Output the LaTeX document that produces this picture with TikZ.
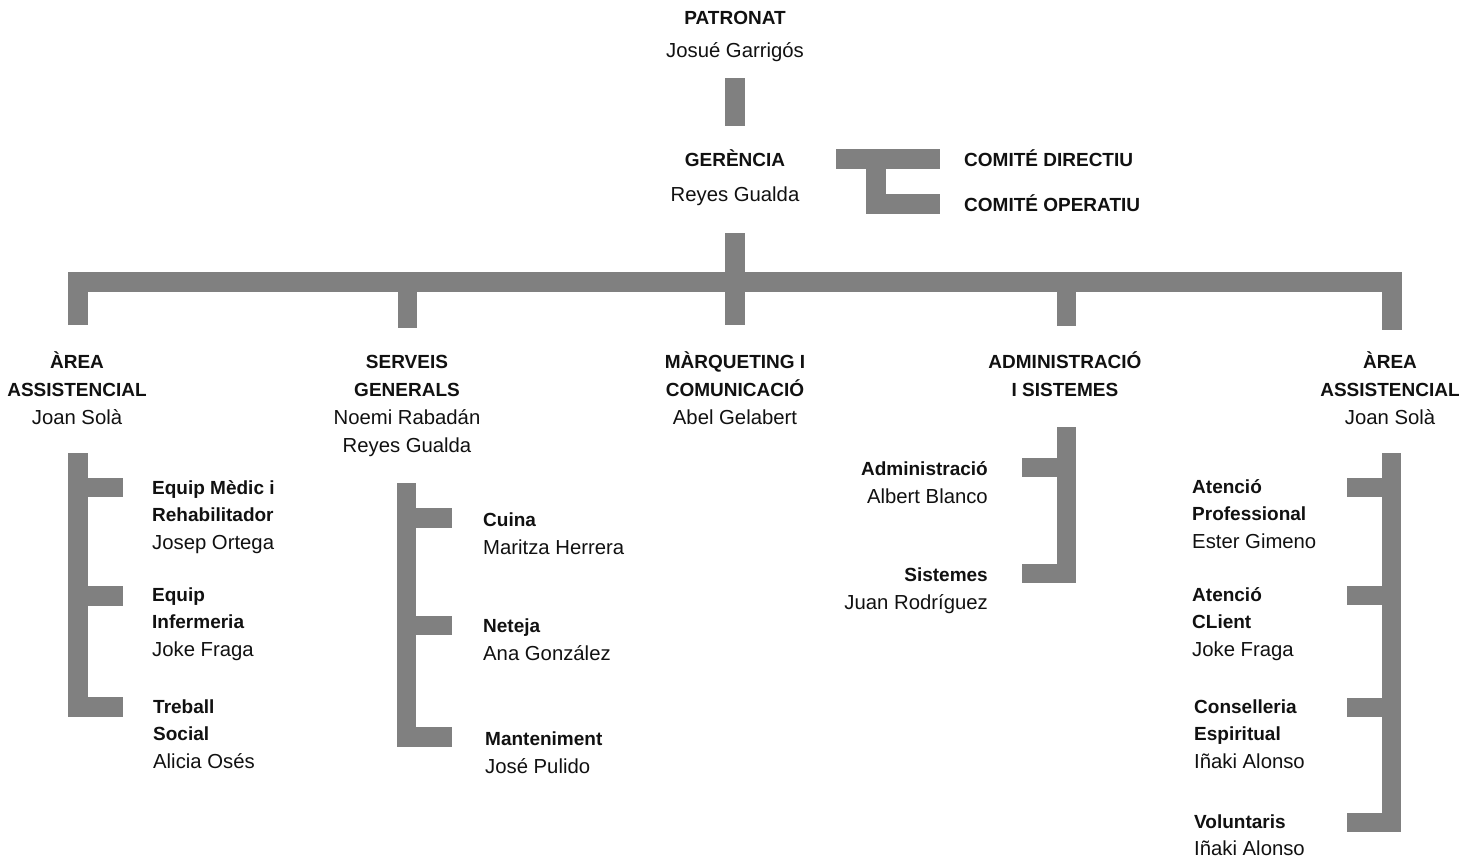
\documentclass[tikz,border=0pt]{standalone}
\usepackage{fontspec}
\setmainfont{Liberation Sans}
\definecolor{barc}{HTML}{808080}
\definecolor{txt}{HTML}{111111}
\begin{document}
\begin{tikzpicture}[x=1pt,y=-1pt,
  bar/.style={draw=barc, line width=19.5pt, line cap=butt, line join=miter},
  hd/.style={font=\bfseries\fontsize{19}{24}\selectfont, text=txt, inner sep=0pt},
  nm/.style={font=\fontsize{20.3}{24}\selectfont, text=txt, inner sep=0pt}]
\useasboundingbox[fill=white] (0,0) rectangle (1473,863);

% ---- top
\node[hd, anchor=base] (pat1) at (735,24) {PATRONAT};
\node[nm, anchor=base] (pat2) at (735,57) {Josué Garrigós};
\node[hd, anchor=base] (ger1) at (735,166) {GERÈNCIA};
\node[nm, anchor=base] (ger2) at (735,201) {Reyes Gualda};
\node[hd, anchor=base west] (cd) at (964,166) {COMITÉ DIRECTIU};
\node[hd, anchor=base west] (co) at (964,211) {COMITÉ OPERATIU};

\coordinate (patB) at (735,78);
\coordinate (gerT) at (735,126);
\draw[bar] (patB) -- (gerT);

\coordinate (cdL) at (836,159);
\coordinate (cdR) at (940,159);
\coordinate (cV) at (876,159);
\coordinate (coC) at (876,204);
\coordinate (coR) at (940,204);
\draw[bar] (cdL) -- (cdR);
\draw[bar] (cV) -- (coC) -- (coR);

% ---- main bar
\coordinate (gerB) at (735,233);
\coordinate (mL) at (78,282);
\coordinate (mR) at (1392,282);
\coordinate (dA) at (78,325);
\coordinate (dB) at (407.5,328);
\coordinate (dC) at (735,325);
\coordinate (dD) at (1066.5,326);
\coordinate (dE) at (1392,330);
\draw[bar] (dA) -- (mL) -- (mR) -- (dE);
\draw[bar] (gerB) -- (dC);
\draw[bar] (dB |- mL) -- (dB);
\draw[bar] (dD |- mL) -- (dD);

% ---- column titles
\node[hd, anchor=base] (a1) at (77,368) {ÀREA};
\node[hd, anchor=base] (a2) at (77,396) {ASSISTENCIAL};
\node[nm, anchor=base] (a3) at (77,424) {Joan Solà};

\node[hd, anchor=base] (s1) at (407,368) {SERVEIS};
\node[hd, anchor=base] (s2) at (407,396) {GENERALS};
\node[nm, anchor=base] (s3) at (407,424) {Noemi Rabadán};
\node[nm, anchor=base] (s4) at (407,452) {Reyes Gualda};

\node[hd, anchor=base] (m1) at (735,368) {MÀRQUETING I};
\node[hd, anchor=base] (m2) at (735,396) {COMUNICACIÓ};
\node[nm, anchor=base] (m3) at (735,424) {Abel Gelabert};

\node[hd, anchor=base] (d1) at (1065,368) {ADMINISTRACIÓ};
\node[hd, anchor=base] (d2) at (1065,396) {I SISTEMES};

\node[hd, anchor=base] (e1) at (1390,368) {ÀREA};
\node[hd, anchor=base] (e2) at (1390,396) {ASSISTENCIAL};
\node[nm, anchor=base] (e3) at (1390,424) {Joan Solà};

% ---- left sub
\coordinate (lT) at (78,453);
\coordinate (lB) at (78,707);
\coordinate (l3) at (123,707);
\coordinate (l1) at (123,487.5);
\coordinate (l2) at (123,596);
\draw[bar] (lT) -- (lB) -- (l3);
\draw[bar] (lT |- l1) -- (l1);
\draw[bar] (lT |- l2) -- (l2);
\node[hd, anchor=base west] (la1) at (152,494) {Equip Mèdic i};
\node[hd, anchor=base west] (la2) at (152,521.5) {Rehabilitador};
\node[nm, anchor=base west] (la3) at (152,549) {Josep Ortega};
\node[hd, anchor=base west] (lb1) at (152,601) {Equip};
\node[hd, anchor=base west] (lb2) at (152,628.5) {Infermeria};
\node[nm, anchor=base west] (lb3) at (152,656) {Joke Fraga};
\node[hd, anchor=base west] (lc1) at (153,713) {Treball};
\node[hd, anchor=base west] (lc2) at (153,740.5) {Social};
\node[nm, anchor=base west] (lc3) at (153,768) {Alicia Osés};

% ---- serveis sub
\coordinate (sT) at (406.5,483);
\coordinate (sB) at (406.5,737);
\coordinate (sx3) at (452,737);
\coordinate (sx1) at (452,518);
\coordinate (sx2) at (452,625.5);
\draw[bar] (sT) -- (sB) -- (sx3);
\draw[bar] (sT |- sx1) -- (sx1);
\draw[bar] (sT |- sx2) -- (sx2);
\node[hd, anchor=base west] (sa1) at (483,526) {Cuina};
\node[nm, anchor=base west] (sa2) at (483,554) {Maritza Herrera};
\node[hd, anchor=base west] (sb1) at (483,632) {Neteja};
\node[nm, anchor=base west] (sb2) at (483,660) {Ana González};
\node[hd, anchor=base west] (sc1) at (485,745) {Manteniment};
\node[nm, anchor=base west] (sc2) at (485,773) {José Pulido};

% ---- admin sub
\coordinate (aT) at (1066.5,427);
\coordinate (aB) at (1066.5,573.5);
\coordinate (ax2) at (1022,573.5);
\coordinate (ax1) at (1022,467.5);
\draw[bar] (aT) -- (aB) -- (ax2);
\draw[bar] (aT |- ax1) -- (ax1);
\node[hd, anchor=base east] (da1) at (988,475) {Administració};
\node[nm, anchor=base east] (da2) at (988,503) {Albert Blanco};
\node[hd, anchor=base east] (db1) at (988,581) {Sistemes};
\node[nm, anchor=base east] (db2) at (988,609) {Juan Rodríguez};

% ---- right sub
\coordinate (rT) at (1391.5,453);
\coordinate (rB) at (1391.5,822.5);
\coordinate (rx4) at (1347,822.5);
\coordinate (rx1) at (1347,487.5);
\coordinate (rx2) at (1347,595.5);
\coordinate (rx3) at (1347,707.5);
\draw[bar] (rT) -- (rB) -- (rx4);
\draw[bar] (rT |- rx1) -- (rx1);
\draw[bar] (rT |- rx2) -- (rx2);
\draw[bar] (rT |- rx3) -- (rx3);
\node[hd, anchor=base west] (ra1) at (1192,493) {Atenció};
\node[hd, anchor=base west] (ra2) at (1192,520.5) {Professional};
\node[nm, anchor=base west] (ra3) at (1192,548) {Ester Gimeno};
\node[hd, anchor=base west] (rb1) at (1192,601) {Atenció};
\node[hd, anchor=base west] (rb2) at (1192,628.5) {CLient};
\node[nm, anchor=base west] (rb3) at (1192,656) {Joke Fraga};
\node[hd, anchor=base west] (rc1) at (1194,713) {Conselleria};
\node[hd, anchor=base west] (rc2) at (1194,740.5) {Espiritual};
\node[nm, anchor=base west] (rc3) at (1194,768) {Iñaki Alonso};
\node[hd, anchor=base west] (rd1) at (1194,828) {Voluntaris};
\node[nm, anchor=base west] (rd2) at (1194,855) {Iñaki Alonso};
\end{tikzpicture}
\end{document}
